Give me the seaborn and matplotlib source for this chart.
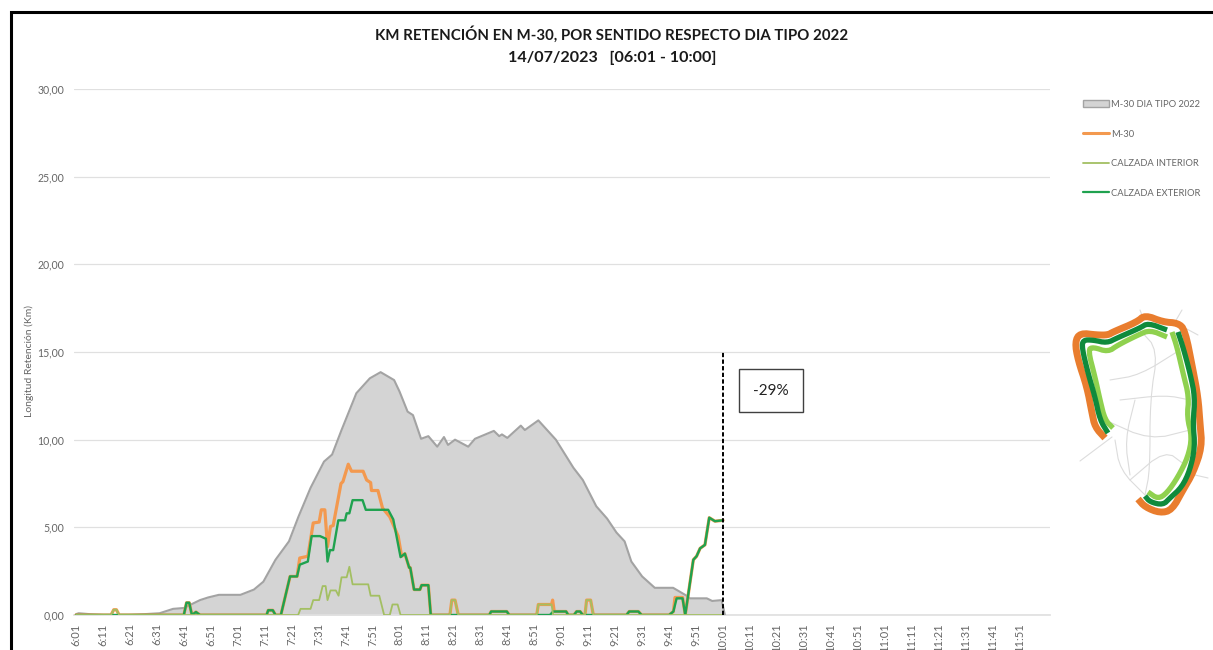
import matplotlib
matplotlib.use("Agg")
import matplotlib.pyplot as plt
import seaborn as sns
from matplotlib.lines import Line2D
from matplotlib.patches import Patch, Rectangle

sns.set_theme(style="white")
plt.rcParams['font.family'] = ['Lato', 'DejaVu Sans']

TITLE_1 = "KM RETENCIÓN EN M-30, POR SENTIDO RESPECTO DIA TIPO 2022"
TITLE_2 = "14/07/2023   [06:01 - 10:00]"
TICK_LABELS = ["6:01","6:11","6:21","6:31","6:41","6:51","7:01","7:11","7:21","7:31","7:41","7:51",
               "8:01","8:11","8:21","8:31","8:41","8:51","9:01","9:11","9:21","9:31","9:41","9:51",
               "10:01","10:11","10:21","10:31","10:41","10:51","11:01","11:11","11:21","11:31","11:41","11:51"]
TICK_MINUTES = [0,10,20,30,40,50,60,70,80,90,100,110,120,130,140,150,160,170,180,190,200,210,220,230,
                240,250,260,270,280,290,300,310,320,330,340,350]
Y_TICKS = [0,5,10,15,20,25,30]
Y_LABELS = ["0,00","5,00","10,00","15,00","20,00","25,00","30,00"]

tipo_x = [0,1,5,10,20,31,36,40,46,49,53,61,66,69.5,74,79,82.5,87,92,95,98.5,104,109,113,118,120,123,125,128,130.7,
          134,136.5,138,140.6,145.5,148,155,157,158,160,165,166.5,171.5,178,184.5,188,193,197,200.5,203.5,206,210,
          214.7,221.5,226.5,227.7,234,236,239.5,240.7]
tipo_y = [0.05,0.1,0.05,0,0,0.1,0.35,0.4,0.85,1.0,1.15,1.15,1.45,1.9,3.15,4.2,5.6,7.25,8.75,9.15,10.55,12.65,13.5,13.85,13.4,12.75,
          11.6,11.4,10.05,10.2,9.6,10.15,9.7,10.0,9.6,10.05,10.5,10.2,10.3,10.1,10.8,10.55,11.1,10,8.4,7.7,6.2,5.5,4.7,4.2,3.05,2.2,
          1.55,1.55,1.1,0.95,0.95,0.8,0.85,0]

ext_x = [0,40,41,42,43,44.5,46,70.7,71.3,73,74,76,79.4,82,83,86,87.4,90.5,92.7,93.3,94.2,95.4,97.3,99.8,100.4,101.4,102.6,106.3,107.5,
         115.8,117.7,120.4,122,123.6,124,125.4,127.6,128.2,130.7,131.6,153.3,154,159.8,160.7,175.8,177,181.8,182.6,184.7,185.7,187,188,
         204.2,205.2,208.6,209.8,220,221.6,222.8,225,226,229,230.2,231.5,233.3,234.9,237,240]
ext_y = [0,0,0.7,0.7,0,0.17,0,0,0.27,0.27,0,0,2.2,2.2,2.87,3.05,4.5,4.5,4.35,3.05,3.7,3.7,5.4,5.4,5.8,5.8,6.55,6.55,6,
         6,5.45,3.3,3.5,2.7,2.7,1.45,1.45,1.7,1.7,0,0,0.2,0.2,0,0,0.2,0.2,0,0,0.2,0.2,0,
         0,0.2,0.2,0,0,0.2,0.95,0.95,0,3.15,3.35,3.8,4.0,5.55,5.35,5.4]

m30_x = [0,13,14,15,16,40,41,42,43,44.5,46,70.7,71.3,73,74,76,79.4,82,83,86,88,90.2,91,92.3,93.3,94.4,95.4,98.3,99,101,102.2,106.5,107.8,109.3,
         109.6,112,113.7,116.4,119.5,120.8,122,123.6,124,125.4,127.6,128.2,130.7,131.6,138.7,139.4,140.6,141.8,153.3,154,159.8,160.7,170.9,171.5,
         176.4,176.8,177.4,181.8,182.6,184.7,185.7,187,188,188.8,189.4,190.9,191.9,204.2,205.2,208.6,209.8,220,221.6,222.2,225,226,229,230.2,231.5,233.3,234.9,237,240]
m30_y = [0,0,0.3,0.3,0,0,0.7,0.7,0,0.17,0,0,0.27,0.27,0,0,2.2,2.2,3.25,3.35,5.25,5.3,6,6,3.9,5.05,5.1,7.5,7.6,8.6,8.2,8.2,7.7,7.55,
         7.1,7.1,6.1,5.6,4.5,3.35,3.5,2.7,2.7,1.45,1.45,1.7,1.7,0,0,0.85,0.85,0,0,0.2,0.2,0,0,0.6,
         0.6,0.85,0.2,0.2,0,0,0.2,0.2,0,0,0.85,0.85,0,0,0.2,0.2,0,0,0.2,1.0,1.0,0,3.15,3.35,3.8,4.0,5.55,5.35,5.4]

int_x = [0,13,14,15,16,82.4,83.3,87,88,90.2,91.5,92.6,93.3,94.4,96.4,97.4,98.5,100.4,101.4,102.6,108.4,109.3,112.5,114.3,116.4,117.4,119.3,120.4,
         138.7,139.4,140.6,141.8,170.9,171.5,176.4,177,188.8,189.4,190.9,191.9,240]
int_y = [0,0,0.3,0.3,0,0,0.35,0.35,0.85,0.85,1.65,1.65,0.85,1.4,1.4,1.1,2.15,2.15,2.75,1.75,1.75,1.1,1.1,0,0,0.6,0.6,0,
         0,0.85,0.85,0,0,0.6,0.6,0,0,0.85,0.85,0,0]

LEGEND_NAMES = ["M-30 DIA TIPO 2022","M-30","CALZADA INTERIOR","CALZADA EXTERIOR"]
NOTE = "-29%"

# ring-road sketch (reference pixel positions)
ring_orange = [(1138,499),(1145,507),(1160,513),(1172,510),(1183,490),(1193,473),(1202,447),(1200,423),(1198,397),(1193,370),(1185,330),(1178,323),
               (1163,322),(1145,315),(1137,322),(1113,332),(1108,335),(1097,335),(1080,333),(1075,342),(1078,360),(1087,387),(1092,413),(1095,427),(1105,438)]
ring_dark = [(1145,496),(1150,502),(1163,505),(1170,498),(1182,487),(1190,470),(1195,447),(1193,423),(1195,397),(1190,373),(1183,347),(1178,332)]
ring_dark2 = [(1167,330),(1148,323),(1140,328),(1117,338),(1107,343),(1093,340),(1083,340),(1082,348),(1088,373),(1095,397),(1100,420),(1108,433)]
ring_light = [(1148,492),(1158,499),(1167,493),(1178,477),(1188,457),(1192,437),(1187,417),(1189,397),(1183,373),(1177,347),(1172,332)]
ring_light2 = [(1167,337),(1150,330),(1138,335),(1118,345),(1108,352),(1093,347),(1088,350),(1095,377),(1100,400),(1105,420),(1113,428)]
roads = [[(1140,330),(1158,350),(1150,400),(1150,470),(1145,495)],[(1110,380),(1140,375),(1180,350)],[(1105,420),(1150,440),(1190,430)],
         [(1112,437),(1080,461)],[(1115,440),(1120,470),(1145,495)],[(1130,480),(1165,450),(1185,465)],[(1120,400),(1165,395),(1190,400)],
         [(1135,400),(1125,440),(1130,475)],[(1195,475),(1208,478)],[(1140,310),(1143,318)],[(1175,322),(1182,310)],[(1185,328),(1198,335)]]


def rounded(points, passes=2):
    """Corner-cut a sketch polyline so the ring reads as a smooth band."""
    for _ in range(passes):
        out = [points[0]]
        for (x0, y0), (x1, y1) in zip(points, points[1:]):
            out.append((0.75*x0 + 0.25*x1, 0.75*y0 + 0.25*y1))
            out.append((0.25*x0 + 0.75*x1, 0.25*y0 + 0.75*y1))
        out.append(points[-1])
        points = out
    return points


fig = plt.figure(figsize=(12.13, 6.5), dpi=100, facecolor="white")
W, H = 1213, 650
ax = fig.add_axes([74/W, 1-615/H, (1050-74)/W, (615-89)/H])

ax.fill_between(tipo_x, tipo_y, 0, color="#d4d4d4", lw=0, zorder=2)
sns.lineplot(x=tipo_x, y=tipo_y, ax=ax, color="#a3a3a3", lw=1.5, estimator=None, sort=False, zorder=3)
sns.lineplot(x=m30_x, y=m30_y, ax=ax, color="#f3994f", lw=2.3, estimator=None, sort=False, zorder=4)
sns.lineplot(x=ext_x, y=ext_y, ax=ax, color="#1fa24f", lw=1.7, estimator=None, sort=False, zorder=5)
sns.lineplot(x=int_x, y=int_y, ax=ax, color="#a3bf62", lw=1.3, estimator=None, sort=False, zorder=6)

ax.set_xlim(-0.74, 361.3)
ax.set_ylim(0, 30)
ax.set_xticks(TICK_MINUTES, TICK_LABELS, rotation=90, fontsize=8, color="#666666")
ax.set_yticks(Y_TICKS, Y_LABELS, fontsize=7.6, color="#666666")
ax.tick_params(axis="x", length=0, pad=6)
ax.tick_params(axis="y", length=0, pad=7)
ax.grid(axis="y", color="#e0e0e0", lw=0.9)
ax.set_axisbelow(True)
for s in ["top", "right", "left"]:
    ax.spines[s].set_visible(False)
ax.spines["bottom"].set_color("#e0e0e0")
ax.set_xlabel("")
ax.set_ylabel("Longitud Retención (Km)", fontsize=7.5, color="#666666", labelpad=0)
ax.yaxis.set_label_coords((34-74)/(1050-74), (615-361)/(615-89))

ax.plot([240, 240], [0, 15], color="black", lw=1.4, ls=(0, (2.2, 1.2)), zorder=7)

fig.text(612/W, 1-34/H, TITLE_1, ha="center", va="center", fontsize=10.85, fontweight="bold", color="#1a1a1a")
fig.text(612/W, 1-58/H, TITLE_2, ha="center", va="center", fontsize=11.6, fontweight="bold", color="#1a1a1a")

# overlay in reference pixel coordinates: frame, note and sketch
ov = fig.add_axes([0, 0, 1, 1], facecolor="none", zorder=10)
ov.set_xlim(0, W); ov.set_ylim(H, 0); ov.axis("off")
ov.plot([11, 11, W], [H, 11.5, 11.5], color="black", lw=2.2, solid_joinstyle="miter")
ov.add_patch(Rectangle((739, 369), 64, 43, fc="white", ec="#404040", lw=1))
ov.text(771, 391, NOTE, ha="center", va="center", fontsize=11, color="#222222")
for r in roads:
    ov.plot(*zip(*rounded(r)), color="#dcdcdc", lw=0.8)
ov.plot(*zip(*rounded(ring_orange)), color="#e97d2e", lw=5, solid_capstyle="butt")
for r in (ring_light, ring_light2):
    ov.plot(*zip(*rounded(r)), color="#8fd14f", lw=3.8, solid_capstyle="butt")
for r in (ring_dark, ring_dark2):
    ov.plot(*zip(*rounded(r)), color="#0f8a3c", lw=3.8, solid_capstyle="butt")

handles = [Patch(fc="#d4d4d4", ec="#a3a3a3", lw=1),
           Line2D([], [], color="#f3994f", lw=2.2),
           Line2D([], [], color="#a3bf62", lw=1.3),
           Line2D([], [], color="#1fa24f", lw=1.6)]
leg = fig.legend(handles, LEGEND_NAMES, loc="upper left", bbox_to_anchor=(1083/W, 1-100/H), bbox_transform=fig.transFigure,
                 frameon=False, fontsize=6.75, labelcolor="#666666", handlelength=2.75, handleheight=0.8,
                 handletextpad=0.2, labelspacing=2.2, borderpad=0, borderaxespad=0)
leg.set_zorder(11)

fig.savefig("out.png", dpi=100)
